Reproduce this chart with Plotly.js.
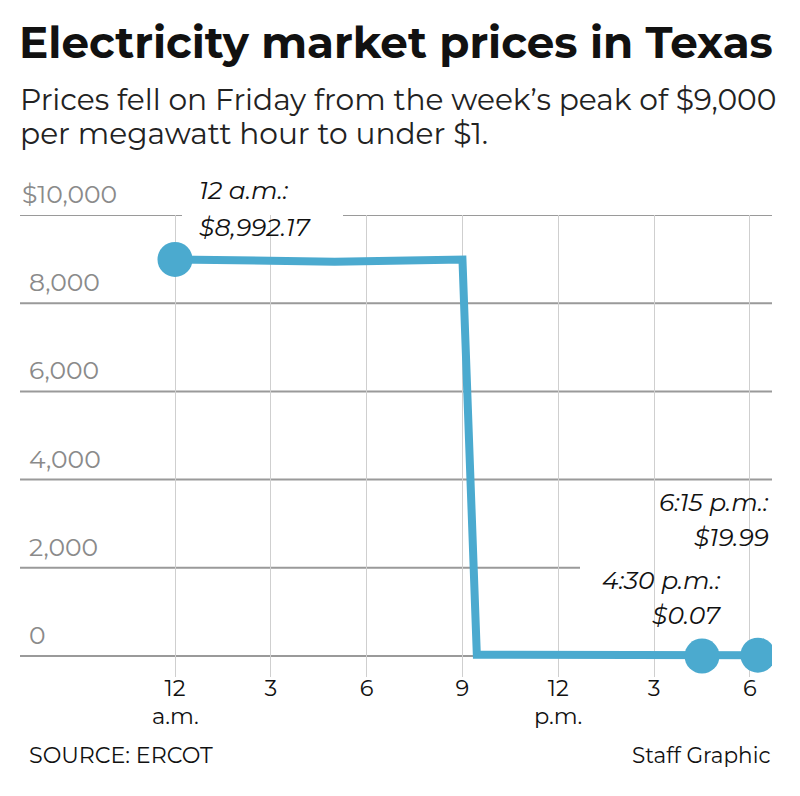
<!DOCTYPE html>
<html><head><meta charset="utf-8">
<script src="https://cdn.plot.ly/plotly-3.0.1.min.js"></script>
<style>html,body{margin:0;padding:0;background:#fff;}#chart{width:800px;height:796px;}</style>
</head><body><div id="chart"></div>
<script>
// Data (hours after midnight Friday, price $/MWh)
const hours = [0, 1, 2, 3, 4, 4.5, 5, 6, 7, 8, 8.5, 9, 9.45, 10, 11, 12, 13, 14, 15, 16, 16.5, 17, 17.5, 18, 18.25];
const prices = [8992.17, 8990, 8988, 8990, 8975, 8945, 8940, 8945, 8950, 8960, 8985, 8990, 30, 28, 25, 20, 15, 10, 6, 3, 0.07, 6, 12, 16, 19.99];
const markerHours = [0, 16.5, 18.25];
const markerPrices = [8992.17, 0.07, 19.99];
const xTickVals = [0, 3, 6, 9, 12, 15, 18];
const xTickText = ["12", "3", "6", "9", "12", "3", "6"];
const xTickSub = ["a.m.", "", "", "", "p.m.", "", ""];
const yTickVals = [0, 2000, 4000, 6000, 8000, 10000];
const yTickText = ["0", "2,000", "4,000", "6,000", "8,000", "$10,000"];
const calloutTime = ["12 a.m.:", "6:15 p.m.:", "4:30 p.m.:"];
const calloutPrice = ["$8,992.17", "$19.99", "$0.07"];

const FONT = "Montserrat, 'Noto Sans', 'Open Sans', sans-serif";
const BLUE = "#4BAACF";
const W = 800, H = 796, L = 20, R = 28, T = 215, B = 119;
const pw = W - L - R, ph = H - T - B;
const px = p => (p - L) / pw;
const py = p => (H - B - p) / ph;

// horizontal gridlines (with gaps behind callouts)
const gaps = {10000: [182, 343], 2000: [580, 772]};
const shapes = [];
yTickVals.forEach(v => {
  const g = gaps[v];
  const segs = g ? [[L, g[0]], [g[1], W - R]] : [[L, W - R]];
  segs.forEach(s => {
    if (s[1] - s[0] > 1) shapes.push({type: 'line', layer: 'below', xref: 'paper', yref: 'y',
      x0: px(s[0]), x1: px(s[1]), y0: v, y1: v, line: {color: '#9a9a9a', width: 2}});
  });
});

const annotations = [];
yTickVals.forEach((v, i) => {
  annotations.push({xref: 'paper', yref: 'y', x: 0, y: v, xanchor: 'left', yanchor: 'middle',
    xshift: v === 10000 ? 0 : 7, yshift: 21, showarrow: false, text: yTickText[i],
    font: {family: FONT, size: 25, color: '#8a8a8a'}});
});
// second line of x tick labels
xTickVals.forEach((v, i) => {
  if (xTickSub[i]) annotations.push({xref: 'x', yref: 'paper', x: v, y: py(716), xanchor: 'center', yanchor: 'middle',
    showarrow: false, text: xTickSub[i], font: {family: FONT, size: 22.5, color: '#111'}});
});
// callouts: [x pixel, anchor, time-line y pixel, price-line y pixel]
const cpos = [[197, 'left', 190, 227], [771, 'right', 502, 537], [723, 'right', 580, 615]];
cpos.forEach((c, i) => {
  [[calloutTime[i], c[2]], [calloutPrice[i], c[3]]].forEach(t => {
    annotations.push({xref: 'paper', yref: 'paper', x: px(c[0]), y: py(t[1]), xanchor: c[1], yanchor: 'middle',
      showarrow: false, text: '<i>' + t[0] + '</i>', font: {family: FONT, size: 25, color: '#111'}});
  });
});
// title, subtitle, footer
annotations.push({xref: 'paper', yref: 'paper', x: px(17), y: py(42), xanchor: 'left', yanchor: 'middle', showarrow: false,
  text: '<b>Electricity market prices in Texas</b>', font: {family: FONT, size: 43.7, color: '#111'}});
annotations.push({xref: 'paper', yref: 'paper', x: px(18), y: py(99), xanchor: 'left', yanchor: 'middle', showarrow: false,
  text: 'Prices fell on Friday from the week’s peak of $9,000', font: {family: FONT, size: 29.7, color: '#222'}});
annotations.push({xref: 'paper', yref: 'paper', x: px(18), y: py(133), xanchor: 'left', yanchor: 'middle', showarrow: false,
  text: 'per megawatt hour to under $1.', font: {family: FONT, size: 29.7, color: '#222'}});
annotations.push({xref: 'paper', yref: 'paper', x: px(27), y: py(755), xanchor: 'left', yanchor: 'middle', showarrow: false,
  text: 'SOURCE: ERCOT', font: {family: FONT, size: 22.2, color: '#111'}});
annotations.push({xref: 'paper', yref: 'paper', x: px(773), y: py(755), xanchor: 'right', yanchor: 'middle', showarrow: false,
  text: 'Staff Graphic', font: {family: FONT, size: 21.5, color: '#111'}});

const data = [
  {x: hours, y: prices, type: 'scatter', mode: 'lines', line: {color: BLUE, width: 8}, hoverinfo: 'skip'},
  {x: markerHours, y: markerPrices, type: 'scatter', mode: 'markers', marker: {color: BLUE, size: 35}, hoverinfo: 'skip'}
];

const layout = {
  width: W, height: H, margin: {l: L, r: R, t: T, b: B, pad: 0},
  paper_bgcolor: '#fff', plot_bgcolor: 'rgba(0,0,0,0)', showlegend: false,
  xaxis: {range: [(L - 175) / 31.94, (W - R - 175) / 31.94], tickvals: xTickVals, ticktext: xTickText,
    showgrid: true, gridcolor: '#cfcfcf', gridwidth: 1, zeroline: false, showline: false, ticks: '',
    ticklabelstandoff: -5,
    tickfont: {family: FONT, size: 22.5, color: '#111'}, fixedrange: true},
  yaxis: {range: [-476, 10000], showgrid: false, zeroline: false, showline: false, showticklabels: false, ticks: '', fixedrange: true},
  shapes: shapes, annotations: annotations
};
Plotly.newPlot('chart', data, layout, {displayModeBar: false, staticPlot: true});
</script></body></html>
